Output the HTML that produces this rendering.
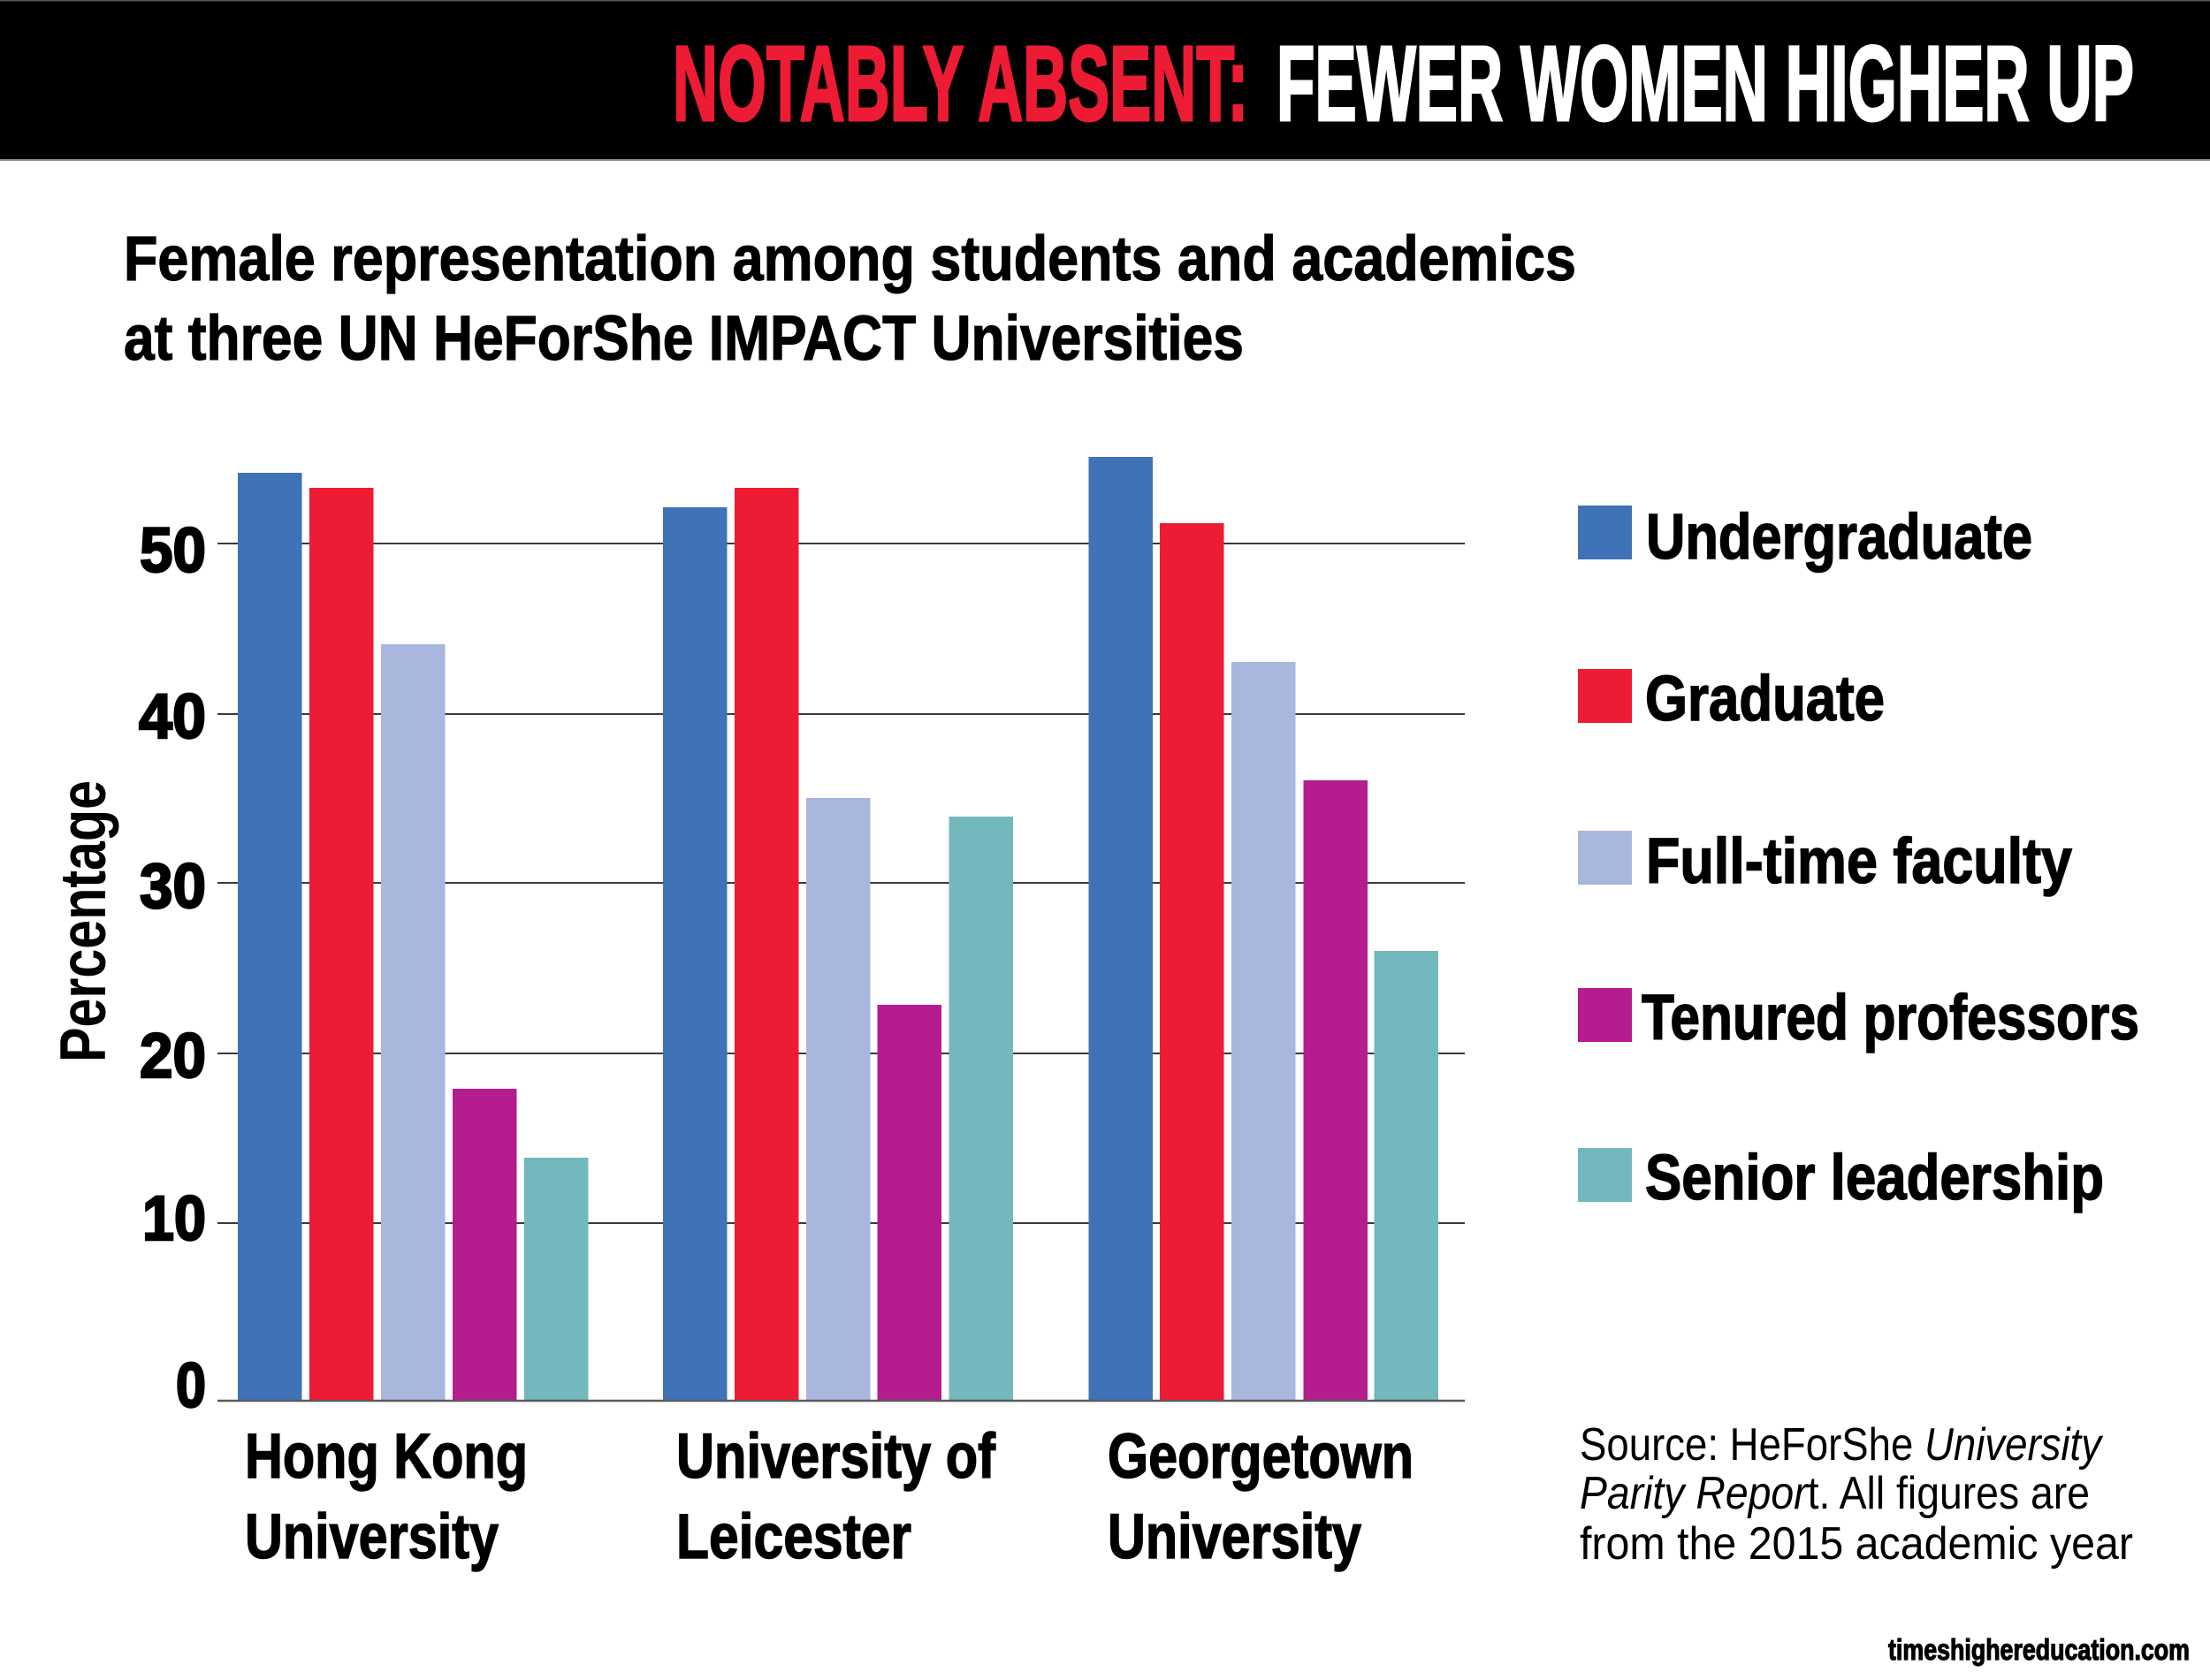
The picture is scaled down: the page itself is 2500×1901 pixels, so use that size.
<!DOCTYPE html>
<html>
<head>
<meta charset="utf-8">
<style>
  html,body{margin:0;padding:0;background:#fff;}
  svg{display:block;}
  .b{font-family:"Liberation Sans Narrow","Liberation Sans",sans-serif;font-weight:bold;}
  .bw{font-family:"Liberation Sans",sans-serif;font-weight:bold;}
  .r{font-family:"Liberation Sans Narrow","Liberation Sans",sans-serif;font-weight:normal;}
</style>
</head>
<body>
<svg width="2500" height="1901" viewBox="0 0 2500 1901" xmlns="http://www.w3.org/2000/svg">
  <rect x="0" y="0" width="2500" height="1901" fill="#ffffff"/>
  <!-- header band -->
  <rect x="0" y="0" width="2500" height="181" fill="#000"/>
  <rect x="0" y="0" width="2500" height="1.5" fill="#555"/>
  <rect x="0" y="180" width="2500" height="2" fill="#888"/>
  <text class="b" x="761" y="136" font-size="121" fill="#ed1b34" stroke="#ed1b34" stroke-width="3" textLength="651" lengthAdjust="spacingAndGlyphs">NOTABLY ABSENT:</text>
  <text class="b" x="1444" y="136" font-size="121" fill="#ffffff" stroke="#ffffff" stroke-width="3" textLength="970" lengthAdjust="spacingAndGlyphs">FEWER WOMEN HIGHER UP</text>

  <!-- subtitle -->
  <text class="b" x="140" y="317" font-size="71" fill="#000" stroke="#000" stroke-width="1.2" textLength="1643" lengthAdjust="spacingAndGlyphs">Female representation among students and academics</text>
  <text class="b" x="140" y="407" font-size="71" fill="#000" stroke="#000" stroke-width="1.2" textLength="1267" lengthAdjust="spacingAndGlyphs">at three UN HeForShe IMPACT Universities</text>

  <!-- gridlines -->
  <g stroke="#3a3a3a" stroke-width="2">
    <line x1="246" y1="615" x2="1657" y2="615"/>
    <line x1="246" y1="808" x2="1657" y2="808"/>
    <line x1="246" y1="999" x2="1657" y2="999"/>
    <line x1="246" y1="1192" x2="1657" y2="1192"/>
    <line x1="246" y1="1384" x2="1657" y2="1384"/>
  </g>

  <!-- bars -->
  <g>
    <!-- Hong Kong -->
    <rect x="269" y="535" width="72.5" height="1050" fill="#3f72b6"/>
    <rect x="350" y="552" width="72.5" height="1033" fill="#ed1b34"/>
    <rect x="431" y="729" width="72.5" height="856" fill="#a9b6de"/>
    <rect x="512" y="1232" width="72.5" height="353" fill="#b51c8e"/>
    <rect x="593" y="1310" width="72.5" height="275" fill="#72b8bc"/>
    <!-- Leicester -->
    <rect x="750" y="574" width="72.5" height="1011" fill="#3f72b6"/>
    <rect x="831" y="552" width="72.5" height="1033" fill="#ed1b34"/>
    <rect x="912" y="903" width="72.5" height="682" fill="#a9b6de"/>
    <rect x="992.5" y="1137" width="72.5" height="448" fill="#b51c8e"/>
    <rect x="1073.5" y="924" width="72.5" height="661" fill="#72b8bc"/>
    <!-- Georgetown -->
    <rect x="1231.5" y="517" width="72.5" height="1068" fill="#3f72b6"/>
    <rect x="1312" y="592" width="72.5" height="993" fill="#ed1b34"/>
    <rect x="1393" y="749" width="72.5" height="836" fill="#a9b6de"/>
    <rect x="1474.5" y="883" width="72.5" height="702" fill="#b51c8e"/>
    <rect x="1554.5" y="1076" width="72.5" height="509" fill="#72b8bc"/>
  </g>

  <!-- axis line -->
  <line x1="246" y1="1585" x2="1657" y2="1585" stroke="#5a5a5a" stroke-width="2.5"/>

  <!-- y tick labels -->
  <g class="b" font-size="71" fill="#000" stroke="#000" stroke-width="2.5" text-anchor="end">
    <text x="233" y="647" textLength="75" lengthAdjust="spacingAndGlyphs">50</text>
    <text x="233" y="835" textLength="76" lengthAdjust="spacingAndGlyphs">40</text>
    <text x="233" y="1027" textLength="75" lengthAdjust="spacingAndGlyphs">30</text>
    <text x="233" y="1219" textLength="75" lengthAdjust="spacingAndGlyphs">20</text>
    <text x="233" y="1403" textLength="72" lengthAdjust="spacingAndGlyphs">10</text>
    <text x="233" y="1592" textLength="34" lengthAdjust="spacingAndGlyphs">0</text>
  </g>

  <!-- y axis title -->
  <text class="bw" font-size="73" fill="#000" transform="translate(119,1202) rotate(-90)" textLength="319" lengthAdjust="spacingAndGlyphs">Percentage</text>

  <!-- x labels -->
  <g class="b" font-size="71" fill="#000" stroke="#000" stroke-width="1.5">
    <text x="277" y="1672" textLength="320" lengthAdjust="spacingAndGlyphs">Hong Kong</text>
    <text x="277" y="1763" textLength="287" lengthAdjust="spacingAndGlyphs">University</text>
    <text x="765" y="1672" textLength="361" lengthAdjust="spacingAndGlyphs">University of</text>
    <text x="765" y="1763" textLength="266" lengthAdjust="spacingAndGlyphs">Leicester</text>
    <text x="1253" y="1672" textLength="346" lengthAdjust="spacingAndGlyphs">Georgetown</text>
    <text x="1253" y="1763" textLength="287" lengthAdjust="spacingAndGlyphs">University</text>
  </g>

  <!-- legend -->
  <rect x="1785" y="572" width="61" height="61" fill="#3f72b6"/>
  <rect x="1785" y="757" width="61" height="61" fill="#ed1b34"/>
  <rect x="1785" y="940" width="61" height="61" fill="#a9b6de"/>
  <rect x="1785" y="1118" width="61" height="61" fill="#b51c8e"/>
  <rect x="1785" y="1299" width="61" height="61" fill="#72b8bc"/>
  <g class="b" font-size="72" fill="#000" stroke="#000" stroke-width="1.5">
    <text x="1862" y="632" textLength="437" lengthAdjust="spacingAndGlyphs">Undergraduate</text>
    <text x="1861" y="815" textLength="271" lengthAdjust="spacingAndGlyphs">Graduate</text>
    <text x="1862" y="999" textLength="482" lengthAdjust="spacingAndGlyphs">Full-time faculty</text>
    <text x="1857" y="1176" textLength="563" lengthAdjust="spacingAndGlyphs">Tenured professors</text>
    <text x="1861" y="1357" textLength="519" lengthAdjust="spacingAndGlyphs">Senior leadership</text>
  </g>

  <!-- source -->
  <g class="r" font-size="52" fill="#000">
    <text x="1787" y="1652" textLength="590" lengthAdjust="spacingAndGlyphs">Source: HeForShe <tspan font-style="italic">University</tspan></text>
    <text x="1787" y="1707" textLength="577" lengthAdjust="spacingAndGlyphs"><tspan font-style="italic">Parity Repor</tspan>t. All figures are</text>
    <text x="1787" y="1764" textLength="626" lengthAdjust="spacingAndGlyphs">from the 2015 academic year</text>
  </g>

  <!-- footer -->
  <text class="b" x="2136" y="1878" font-size="33" fill="#000" stroke="#000" stroke-width="1.2" textLength="341" lengthAdjust="spacingAndGlyphs">timeshighereducation.com</text>
</svg>
</body>
</html>
